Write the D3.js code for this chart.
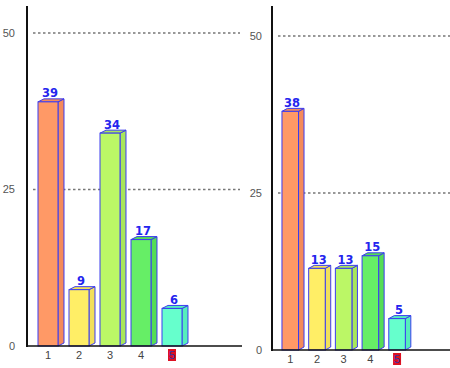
<!DOCTYPE html>
<html><head><meta charset="utf-8">
<script src="https://cdn.jsdelivr.net/npm/d3@7"></script>
<style>body{margin:0;background:#fff}svg{display:block}</style>
</head><body>
<svg id="c" width="450" height="368"></svg>
<script>
const categories = ["1","2","3","4","5"];
const leftValues = [39, 9, 34, 17, 6];
const rightValues = [38, 13, 13, 15, 5];
const yTicks = [0, 25, 50];
const highlightCategory = "5";
const barColors = ["#ff9966", "#ffee66", "#bbf766", "#66ee66", "#66ffcc"];
const sideColors = ["#f48a5a", "#f2e05a", "#a8e65a", "#55dd55", "#55eebb"];

const svg = d3.select("#c");
const font = "'Liberation Sans', Arial, sans-serif";

const panels = [
  {values: leftValues, axisX: 27, axisTop: 6, yRange: [346, 33], xRange: [32.5, 187.5], pad: 0.355,
   gridEnd: 240, baseEnd: 242, labelX: 15, depth: 6},
  {values: rightValues, axisX: 272, axisTop: 6, yRange: [350, 36], xRange: [276.9, 410.4], pad: 0.38,
   gridEnd: 450, baseEnd: 450, labelX: 262, depth: 5.5}
];

panels.forEach(p => {
  const g = svg.append("g");
  const y = d3.scaleLinear().domain([0, 50]).range(p.yRange);
  const x = d3.scaleBand().domain(categories).range(p.xRange)
    .paddingInner(p.pad).paddingOuter(p.pad / 2);

  // gridlines
  g.selectAll("line.grid").data(yTicks.filter(t => t > 0)).join("line")
    .attr("x1", p.axisX + 6).attr("x2", p.gridEnd)
    .attr("y1", d => y(d)).attr("y2", d => y(d))
    .attr("stroke", "#777").attr("stroke-width", 1.4).attr("stroke-dasharray", "2.5,2.5");

  // y tick labels
  g.selectAll("text.yt").data(yTicks).join("text")
    .attr("x", p.labelX).attr("y", d => y(d)).attr("dy", "0.35em")
    .attr("text-anchor", "end").attr("font-family", font).attr("font-size", 11)
    .attr("fill", "#555").text(d => d);

  // bars
  const dx = p.depth, dy = -3;
  const bars = g.selectAll("g.bar").data(p.values.map((v, i) => ({v, c: categories[i], i}))).join("g");
  bars.append("path")
    .attr("d", d => {
      const x1 = x(d.c) + x.bandwidth(), yt = y(d.v), yb = y(0);
      return `M${x1},${yb}L${x1 + dx},${yb + dy}L${x1 + dx},${yt + dy}L${x1},${yt}Z`;
    })
    .attr("fill", d => sideColors[d.i]).attr("stroke", "#3c3cf0").attr("stroke-width", 1);
  bars.append("path")
    .attr("d", d => {
      const x0 = x(d.c), x1 = x0 + x.bandwidth(), yt = y(d.v);
      return `M${x0},${yt}L${x0 + dx},${yt + dy}L${x1 + dx},${yt + dy}L${x1},${yt}Z`;
    })
    .attr("fill", d => sideColors[d.i]).attr("stroke", "#3c3cf0").attr("stroke-width", 1);
  bars.append("rect")
    .attr("x", d => x(d.c)).attr("y", d => y(d.v))
    .attr("width", x.bandwidth()).attr("height", d => y(0) - y(d.v))
    .attr("fill", d => barColors[d.i]).attr("stroke", "#3c3cf0").attr("stroke-width", 1);
  bars.append("text")
    .attr("x", d => x(d.c) + x.bandwidth() / 2 + dx / 3).attr("y", d => y(d.v) + dy - 1.5)
    .attr("text-anchor", "middle").attr("font-family", "'DejaVu Sans', Verdana, sans-serif")
    .attr("font-size", 11.5).attr("font-weight", "bold").attr("fill", "#2424ee")
    .text(d => d.v);

  // axes
  g.append("line").attr("x1", p.axisX).attr("x2", p.baseEnd)
    .attr("y1", y(0)).attr("y2", y(0)).attr("stroke", "#111").attr("stroke-width", 1.5);
  g.append("line").attr("x1", p.axisX).attr("x2", p.axisX)
    .attr("y1", p.axisTop).attr("y2", y(0) + 1).attr("stroke", "#111").attr("stroke-width", 2);

  // category labels
  const cl = g.selectAll("g.cl").data(categories).join("g")
    .attr("transform", d => `translate(${x(d) + x.bandwidth() / 2},${y(0) + 9})`);
  cl.filter(d => d === highlightCategory).append("rect")
    .attr("x", -4).attr("y", -6).attr("width", 8).attr("height", 12).attr("fill", "#dd1122");
  cl.append("text").attr("dy", "0.35em").attr("text-anchor", "middle")
    .attr("font-family", font).attr("font-size", 11)
    .attr("fill", d => d === highlightCategory ? "#3333aa" : "#444").text(d => d);
});
</script>
</body></html>
